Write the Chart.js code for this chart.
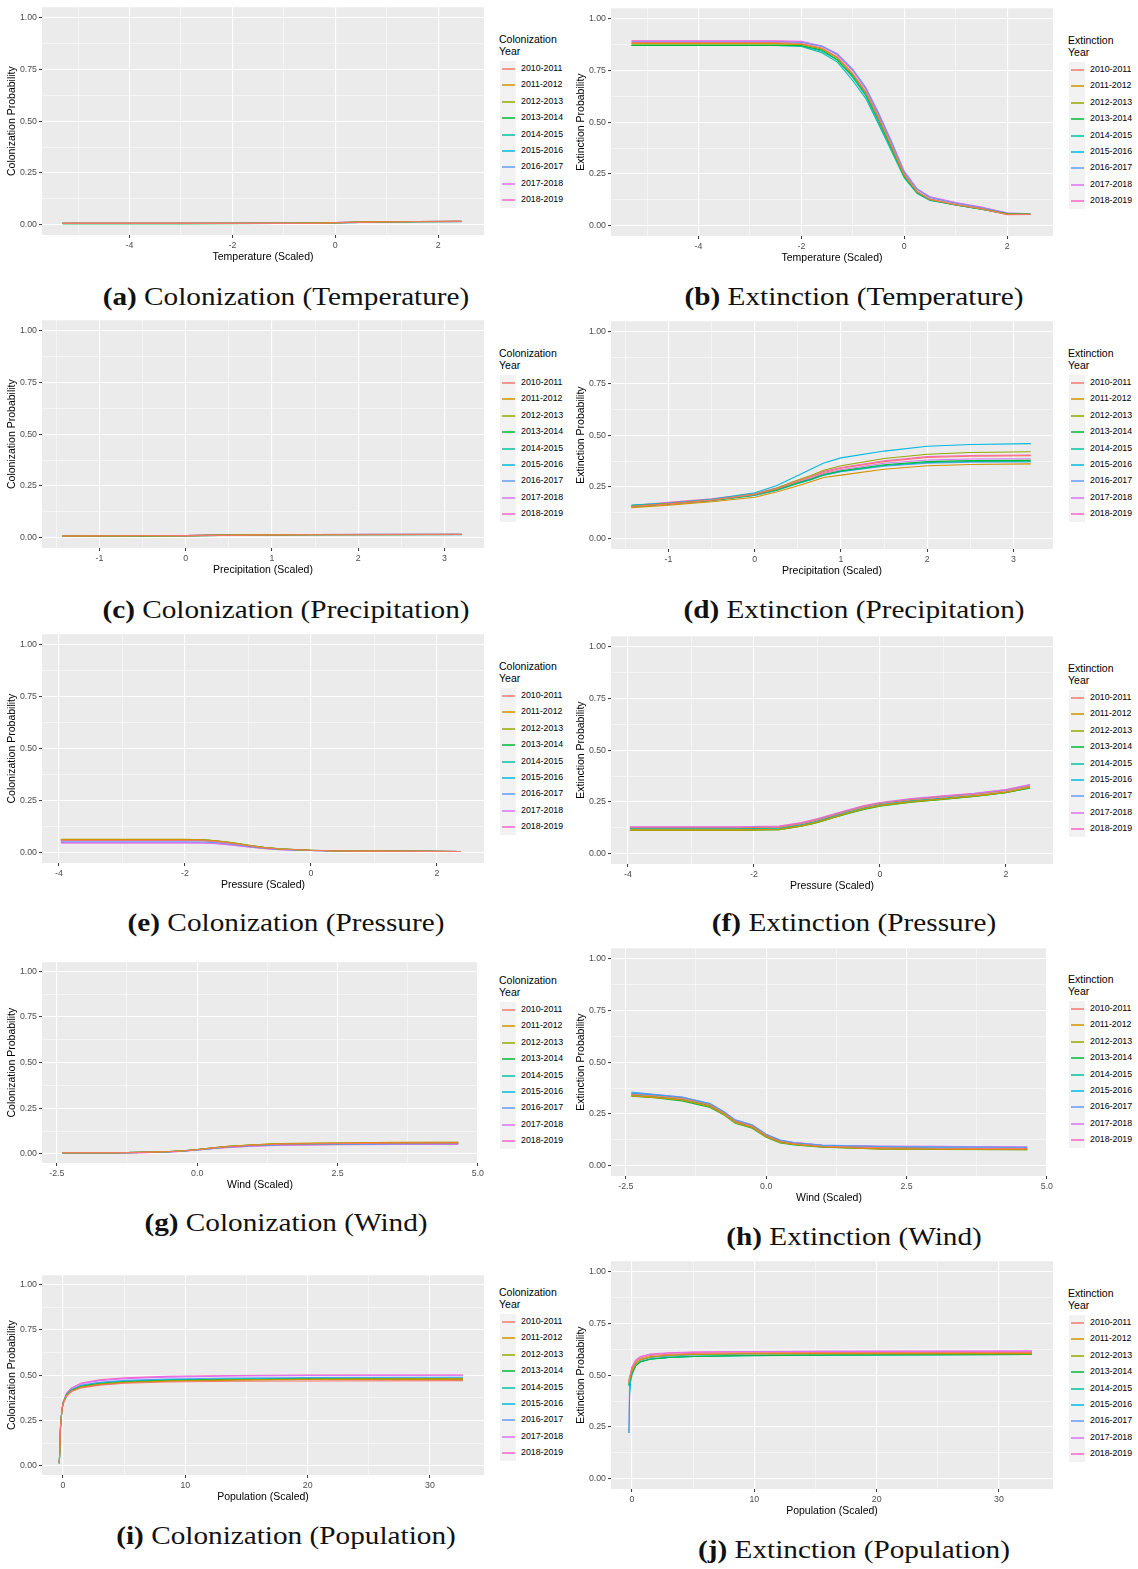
<!DOCTYPE html>
<html>
<head>
<meta charset="utf-8">
<script src="https://cdn.jsdelivr.net/npm/chart.js@4.4.1/dist/chart.umd.min.js"></script>
<style>
  html, body { margin: 0; padding: 0; background: #ffffff; }
  #page { position: relative; width: 1138px; height: 1569px; overflow: hidden; background: #ffffff; }
  canvas { position: absolute; }
  .legend { position: absolute; font-family: "Liberation Sans", Arial, sans-serif; color: #000; }
  .legend .ttl { font-size: 10.5px; line-height: 12px; white-space: nowrap; }
  .legend .keys { position: absolute; left: 1px; background: #F2F2F2; width: 16px; }
  .legend .row { position: absolute; left: 0; height: 16px; width: 80px; }
  .legend .row i { position: absolute; left: 3px; top: 7px; width: 13px; height: 2px; opacity: 0.75; }
  .legend .row span { position: absolute; left: 22px; top: 1px; font-size: 8.8px; line-height: 13px; white-space: nowrap; }
  .cap { position: absolute; width: 560px; text-align: center; font-family: "Liberation Serif", "Times New Roman", serif;
         font-size: 25px; line-height: 30px; color: #111; white-space: nowrap; transform: scaleX(1.17); }
</style>
</head>
<body>
<div id="page"></div>
<script>
// ---- series labels and colours (ggplot hue palette, 9 levels) ----
const years = ['2010-2011','2011-2012','2012-2013','2013-2014','2014-2015','2015-2016','2016-2017','2017-2018','2018-2019'];
const hues  = ['#F8766D','#D39200','#93AA00','#00BA38','#00C19F','#00B9E3','#619CFF','#DB72FB','#FF61C3'];

// ---- axis ranges and ticks ----
const probRange = [-0.05, 1.05];
const probMajor = [0, 0.25, 0.5, 0.75, 1];
const probMinor = [0.125, 0.375, 0.625, 0.875];
const tempRange = [-5.70, 2.89];
const tempMajor = [-4, -2, 0, 2];
const tempMinor = [-5, -3, -1, 1];
const precRange = [-1.667, 3.458];
const precMajor = [-1, 0, 1, 2, 3];
const precMinor = [-1.5, -0.5, 0.5, 1.5, 2.5];
const presRange = [-4.27, 2.746];
const presMajor = [-4, -2, 0, 2];
const presMinor = [-3, -1, 1];
const windRange = [-2.764, 5.0];
const windMajor = [-2.5, 0, 2.5, 5];
const windMinor = [-1.25, 1.25, 3.75];
const popRange  = [-1.717, 34.42];
const popMajor  = [0, 10, 20, 30];
const popMinor  = [5, 15, 25];

// ---- (a) colonization vs temperature ----
const colTempX = [-5.3, -3, -1, -0.3, 0, 0.5, 0.9, 1.6, 2.45];
const colTempY = [
  [0.006,0.006,0.006,0.007,0.009,0.011,0.013,0.014,0.015],
  [0.006,0.006,0.006,0.007,0.009,0.012,0.014,0.015,0.016],
  [0.006,0.006,0.007,0.008,0.010,0.012,0.014,0.015,0.016],
  [0.005,0.005,0.006,0.007,0.009,0.011,0.013,0.014,0.015],
  [0.005,0.005,0.006,0.007,0.009,0.011,0.013,0.014,0.014],
  [0.006,0.006,0.006,0.007,0.009,0.011,0.013,0.014,0.015],
  [0.006,0.006,0.006,0.008,0.010,0.012,0.014,0.015,0.016],
  [0.006,0.006,0.007,0.008,0.010,0.012,0.014,0.015,0.016],
  [0.007,0.007,0.007,0.008,0.010,0.012,0.014,0.015,0.016]
];

// ---- (b) extinction vs temperature ----
const extTempX = [-5.3, -2.5, -2, -1.6, -1.3, -1, -0.75, -0.5, -0.25, 0, 0.25, 0.5, 1, 1.5, 2, 2.45];
const extTempY = [
  [0.885,0.885,0.880,0.858,0.815,0.735,0.648,0.525,0.390,0.248,0.165,0.128,0.102,0.082,0.053,0.054],
  [0.880,0.880,0.877,0.855,0.812,0.732,0.645,0.520,0.385,0.245,0.165,0.127,0.102,0.081,0.055,0.055],
  [0.878,0.878,0.875,0.853,0.810,0.730,0.642,0.518,0.383,0.243,0.163,0.127,0.101,0.081,0.055,0.055],
  [0.871,0.871,0.870,0.848,0.800,0.722,0.635,0.510,0.375,0.238,0.160,0.125,0.100,0.080,0.057,0.055],
  [0.870,0.870,0.866,0.835,0.790,0.700,0.615,0.490,0.360,0.230,0.155,0.122,0.100,0.080,0.056,0.054],
  [0.871,0.871,0.869,0.842,0.800,0.715,0.628,0.500,0.370,0.235,0.158,0.124,0.100,0.080,0.056,0.055],
  [0.887,0.887,0.885,0.866,0.827,0.752,0.665,0.540,0.405,0.258,0.175,0.135,0.108,0.086,0.060,0.056],
  [0.890,0.890,0.888,0.868,0.830,0.755,0.668,0.545,0.408,0.262,0.178,0.138,0.110,0.088,0.062,0.057],
  [0.893,0.893,0.890,0.866,0.825,0.748,0.660,0.535,0.400,0.255,0.175,0.140,0.112,0.090,0.060,0.056]
];

// ---- (c) colonization vs precipitation ----
const colPrecX = [-1.43, -0.5, 0, 0.4, 0.9, 1.5, 2.2, 3.2];
const colPrecY = [
  [0.008,0.009,0.010,0.011,0.013,0.014,0.014,0.015],
  [0.008,0.009,0.010,0.011,0.013,0.014,0.015,0.015],
  [0.008,0.009,0.010,0.012,0.014,0.015,0.015,0.016],
  [0.007,0.008,0.009,0.011,0.013,0.014,0.014,0.015],
  [0.007,0.008,0.009,0.011,0.013,0.014,0.014,0.014],
  [0.008,0.009,0.010,0.011,0.013,0.014,0.015,0.015],
  [0.008,0.009,0.010,0.012,0.014,0.015,0.016,0.016],
  [0.008,0.009,0.010,0.012,0.014,0.015,0.015,0.016],
  [0.009,0.009,0.010,0.012,0.014,0.015,0.016,0.016]
];

// ---- (d) extinction vs precipitation ----
const extPrecX = [-1.43, -1, -0.5, 0, 0.25, 0.5, 0.65, 0.8, 1, 1.5, 2, 2.5, 3.2];
const extPrecY = [
  [0.155,0.168,0.186,0.214,0.240,0.277,0.298,0.320,0.340,0.372,0.392,0.398,0.401],
  [0.150,0.162,0.178,0.200,0.225,0.256,0.275,0.295,0.307,0.335,0.352,0.358,0.361],
  [0.158,0.170,0.186,0.215,0.243,0.283,0.305,0.330,0.352,0.387,0.408,0.416,0.420],
  [0.155,0.168,0.185,0.212,0.236,0.270,0.288,0.310,0.328,0.357,0.372,0.377,0.378],
  [0.152,0.166,0.183,0.209,0.233,0.267,0.285,0.307,0.325,0.353,0.368,0.373,0.374],
  [0.162,0.172,0.190,0.222,0.255,0.305,0.335,0.365,0.390,0.423,0.446,0.455,0.459],
  [0.160,0.170,0.186,0.210,0.234,0.268,0.285,0.306,0.323,0.350,0.365,0.369,0.370],
  [0.158,0.172,0.188,0.213,0.238,0.273,0.292,0.315,0.333,0.364,0.380,0.385,0.386],
  [0.160,0.175,0.192,0.218,0.245,0.282,0.300,0.325,0.344,0.376,0.396,0.402,0.404]
];

// ---- (e) colonization vs pressure ----
const colPresX = [-3.97, -2, -1.7, -1.5, -1.25, -1, -0.75, -0.5, 0, 0.5, 1, 1.8, 2.38];
const colPresY = [
  [0.058,0.058,0.057,0.053,0.044,0.033,0.023,0.017,0.010,0.008,0.007,0.006,0.005],
  [0.063,0.063,0.061,0.056,0.046,0.034,0.024,0.017,0.011,0.008,0.007,0.006,0.005],
  [0.064,0.064,0.062,0.057,0.048,0.036,0.025,0.018,0.011,0.008,0.007,0.006,0.005],
  [0.062,0.062,0.061,0.056,0.047,0.035,0.025,0.018,0.011,0.008,0.007,0.006,0.005],
  [0.060,0.060,0.059,0.055,0.046,0.034,0.024,0.017,0.011,0.008,0.007,0.006,0.005],
  [0.059,0.059,0.058,0.054,0.045,0.033,0.023,0.016,0.010,0.008,0.007,0.006,0.005],
  [0.052,0.052,0.051,0.048,0.040,0.030,0.021,0.015,0.010,0.008,0.007,0.006,0.005],
  [0.048,0.048,0.047,0.044,0.037,0.028,0.020,0.015,0.010,0.008,0.006,0.006,0.005],
  [0.047,0.047,0.046,0.043,0.036,0.027,0.020,0.014,0.010,0.007,0.006,0.005,0.005]
];

// ---- (f) extinction vs pressure ----
const extPresX = [-3.97, -2.3, -1.6, -1.25, -1, -0.75, -0.5, -0.25, 0, 0.5, 1, 1.5, 2, 2.38];
const extPresY = [
  [0.125,0.125,0.128,0.145,0.163,0.185,0.207,0.227,0.242,0.261,0.274,0.287,0.304,0.327],
  [0.115,0.115,0.118,0.135,0.153,0.175,0.198,0.218,0.233,0.252,0.265,0.279,0.297,0.322],
  [0.112,0.112,0.116,0.133,0.151,0.173,0.196,0.216,0.231,0.250,0.263,0.277,0.295,0.320],
  [0.113,0.113,0.116,0.132,0.150,0.172,0.194,0.214,0.229,0.248,0.262,0.276,0.294,0.318],
  [0.120,0.120,0.121,0.137,0.155,0.177,0.199,0.219,0.234,0.253,0.265,0.278,0.295,0.316],
  [0.121,0.121,0.124,0.140,0.158,0.180,0.202,0.222,0.237,0.256,0.268,0.281,0.298,0.320],
  [0.126,0.126,0.129,0.146,0.164,0.186,0.208,0.228,0.243,0.262,0.275,0.288,0.305,0.329],
  [0.128,0.128,0.131,0.148,0.166,0.188,0.210,0.230,0.245,0.264,0.277,0.290,0.308,0.332],
  [0.130,0.130,0.133,0.150,0.168,0.190,0.212,0.232,0.247,0.266,0.279,0.292,0.310,0.334]
];

// ---- (g) colonization vs wind ----
const colWindX = [-2.4, -1.5, -1, -0.5, -0.25, 0, 0.25, 0.5, 1, 1.5, 2.5, 3.5, 4.65];
const colWindY = [
  [0.006,0.006,0.008,0.012,0.016,0.023,0.031,0.038,0.047,0.053,0.056,0.058,0.059],
  [0.006,0.006,0.008,0.013,0.017,0.024,0.032,0.040,0.050,0.057,0.060,0.063,0.064],
  [0.006,0.006,0.008,0.013,0.017,0.024,0.032,0.040,0.050,0.056,0.059,0.062,0.063],
  [0.006,0.006,0.008,0.013,0.017,0.024,0.032,0.040,0.049,0.055,0.058,0.060,0.061],
  [0.006,0.006,0.008,0.012,0.016,0.023,0.031,0.039,0.048,0.054,0.057,0.059,0.060],
  [0.006,0.006,0.008,0.012,0.016,0.023,0.030,0.038,0.047,0.052,0.055,0.057,0.058],
  [0.006,0.006,0.008,0.012,0.016,0.022,0.029,0.036,0.045,0.050,0.053,0.055,0.056],
  [0.005,0.005,0.007,0.011,0.015,0.021,0.028,0.035,0.043,0.048,0.051,0.053,0.054],
  [0.005,0.005,0.007,0.011,0.015,0.021,0.028,0.034,0.042,0.047,0.050,0.052,0.052]
];

// ---- (h) extinction vs wind ----
const extWindX = [-2.4, -2, -1.5, -1, -0.75, -0.55, -0.25, 0, 0.25, 0.5, 1, 2, 3, 4.65];
const extWindY = [
  [0.345,0.338,0.325,0.294,0.254,0.215,0.191,0.147,0.118,0.107,0.094,0.087,0.084,0.082],
  [0.337,0.330,0.317,0.286,0.247,0.208,0.184,0.140,0.112,0.102,0.090,0.081,0.079,0.077],
  [0.338,0.331,0.318,0.287,0.248,0.209,0.185,0.141,0.113,0.103,0.091,0.082,0.080,0.078],
  [0.336,0.328,0.313,0.281,0.244,0.205,0.181,0.137,0.110,0.100,0.089,0.081,0.078,0.077],
  [0.342,0.334,0.321,0.290,0.250,0.212,0.188,0.144,0.116,0.105,0.092,0.085,0.082,0.080],
  [0.350,0.341,0.328,0.296,0.256,0.217,0.193,0.148,0.120,0.108,0.095,0.089,0.086,0.084],
  [0.355,0.345,0.332,0.300,0.260,0.221,0.197,0.152,0.124,0.112,0.099,0.093,0.091,0.089],
  [0.352,0.343,0.331,0.299,0.259,0.220,0.196,0.151,0.123,0.111,0.098,0.093,0.092,0.090],
  [0.348,0.341,0.329,0.298,0.258,0.219,0.195,0.150,0.122,0.111,0.098,0.094,0.093,0.090]
];

// ---- (i) colonization vs population ----
const colPopX = [-0.3, -0.2, -0.1, 0, 0.3, 0.7, 1.5, 3, 5, 8.5, 14, 20, 32.7];
const colPopY = [
  [0.015,0.22,0.30,0.340,0.385,0.410,0.430,0.445,0.455,0.462,0.466,0.468,0.470],
  [0.015,0.22,0.30,0.340,0.388,0.412,0.433,0.448,0.458,0.466,0.472,0.476,0.478],
  [0.015,0.22,0.30,0.345,0.390,0.414,0.436,0.451,0.461,0.469,0.475,0.479,0.481],
  [0.015,0.22,0.30,0.345,0.390,0.415,0.437,0.452,0.462,0.470,0.475,0.477,0.477],
  [0.015,0.22,0.30,0.345,0.392,0.417,0.440,0.455,0.465,0.473,0.478,0.481,0.482],
  [0.015,0.22,0.30,0.345,0.393,0.418,0.441,0.456,0.466,0.474,0.479,0.482,0.483],
  [0.015,0.22,0.30,0.348,0.395,0.421,0.445,0.461,0.471,0.479,0.484,0.487,0.488],
  [0.015,0.22,0.30,0.350,0.400,0.428,0.453,0.470,0.480,0.489,0.495,0.498,0.499],
  [0.015,0.22,0.30,0.350,0.402,0.430,0.456,0.474,0.485,0.493,0.498,0.500,0.501]
];

// ---- (j) extinction vs population ----
const extPopX = [-0.25, -0.2, -0.1, 0, 0.3, 0.7, 1.5, 3, 5, 9, 16, 32.7];
const extPopY = [
  [0.47,0.49,0.51,0.530,0.565,0.583,0.595,0.601,0.605,0.608,0.609,0.610],
  [0.46,0.48,0.50,0.520,0.556,0.576,0.589,0.597,0.601,0.603,0.604,0.604],
  [0.46,0.48,0.50,0.520,0.555,0.575,0.588,0.596,0.600,0.603,0.604,0.603],
  [0.45,0.47,0.49,0.510,0.545,0.565,0.577,0.585,0.590,0.594,0.597,0.600],
  [0.45,0.47,0.49,0.510,0.545,0.565,0.578,0.586,0.591,0.595,0.597,0.600],
  [0.22,0.40,0.47,0.500,0.545,0.565,0.578,0.585,0.590,0.594,0.596,0.600],
  [0.45,0.47,0.50,0.520,0.555,0.572,0.585,0.592,0.597,0.601,0.603,0.606],
  [0.47,0.49,0.51,0.540,0.570,0.588,0.600,0.606,0.610,0.613,0.615,0.616],
  [0.22,0.45,0.51,0.540,0.572,0.590,0.602,0.608,0.612,0.614,0.615,0.616]
];

// ---- drawing ----
const SANS = '"Liberation Sans", Arial, sans-serif';
Chart.defaults.font.family = SANS;
const page = document.getElementById('page');

// grey panel background behind the grid
const panelBg = {
  id: 'panelBg',
  beforeDraw(chart) {
    const { ctx, chartArea: a } = chart;
    ctx.save();
    ctx.fillStyle = '#EBEBEB';
    ctx.fillRect(a.left, a.top, a.right - a.left, a.bottom - a.top);
    ctx.restore();
  }
};

function tickList(major, minor) {
  return major.map(v => ({ value: v, isMajor: true }))
    .concat(minor.map(v => ({ value: v, isMajor: false })))
    .sort((p, q) => p.value - q.value);
}

function axisOpts(range, major, minor, fmt, title, isX) {
  const list = tickList(major, minor);
  return {
    type: 'linear',
    min: range[0], max: range[1],
    afterBuildTicks: s => { s.ticks = list.map(t => ({ ...t })); },
    afterFit: s => { if (isX) s.height = 30; else s.width = 42; },
    border: { display: false },
    grid: {
      color: '#FFFFFF',
      lineWidth: c => (c.tick && c.tick.isMajor ? 1.1 : 0.5),
      drawTicks: true,
      tickLength: 3,
      tickWidth: 1,
      tickColor: c => (c.tick && c.tick.isMajor ? '#333333' : 'rgba(0,0,0,0)')
    },
    ticks: {
      autoSkip: false, maxRotation: 0, minRotation: 0,
      padding: 2,
      color: '#4D4D4D',
      font: { family: SANS, size: 8.8 },
      callback: (v, i, ts) => (ts[i].isMajor ? fmt(v) : '')
    },
    title: {
      display: true, text: title, color: '#000000',
      font: { family: SANS, size: 10.5 },
      padding: isX ? { top: 0, bottom: 2 } : { top: 6, bottom: 0 }
    }
  };
}

const fmtInt = v => String(v);
const fmtOne = v => v.toFixed(1);
const fmtProb = v => v.toFixed(2);

function drawPanel(p) {
  const cv = document.createElement('canvas');
  const W = 486, H = 5 + p.plotH + 32;
  cv.width = W; cv.height = H;
  cv.style.left = p.left + 'px';
  cv.style.top = (p.top - 5) + 'px';
  cv.style.width = W + 'px'; cv.style.height = H + 'px';
  page.appendChild(cv);

  new Chart(cv, {
    type: 'line',
    data: {
      datasets: years.map((yr, i) => ({
        label: yr,
        data: p.xs.map((x, k) => ({ x: x, y: p.ys[i][k] })),
        borderColor: hues[i],
        borderWidth: 1.1,
        pointRadius: 0,
        tension: 0,
        fill: false
      }))
    },
    options: {
      responsive: false, animation: false, devicePixelRatio: 1,
      events: [],
      layout: { padding: { left: 0, right: 2, top: 5, bottom: 2 } },
      plugins: { legend: { display: false }, tooltip: { enabled: false } },
      scales: {
        x: axisOpts(p.xRange, p.xMajor, p.xMinor, p.xFmt, p.xTitle, true),
        y: axisOpts(probRange, probMajor, probMinor, fmtProb, p.yTitle, false)
      }
    },
    plugins: [panelBg]
  });

  // legend: title, grey key column, coloured line keys (whole-pixel rows)
  const lg = document.createElement('div');
  lg.className = 'legend';
  lg.style.left = (p.left + 499) + 'px';
  lg.style.top = Math.round(p.legY - 6) + 'px';
  const ttl = document.createElement('div');
  ttl.className = 'ttl';
  ttl.innerHTML = p.legWord + '<br>Year';
  lg.appendChild(ttl);
  const keyTop = 28;
  const rowTops = years.map((_, i) => keyTop + Math.round(16.4 * i));
  const keys = document.createElement('div');
  keys.className = 'keys';
  keys.style.top = keyTop + 'px';
  keys.style.height = (rowTops[rowTops.length - 1] + 16 - keyTop) + 'px';
  lg.appendChild(keys);
  years.forEach((yr, i) => {
    const row = document.createElement('div');
    row.className = 'row';
    row.style.top = rowTops[i] + 'px';
    row.innerHTML = '<i style="background:' + hues[i] + '"></i><span>' + yr + '</span>';
    lg.appendChild(row);
  });
  page.appendChild(lg);

  // caption under the panel
  const cap = document.createElement('div');
  cap.className = 'cap';
  cap.style.left = (p.capX - 280) + 'px';
  cap.style.top = (p.capY - 15) + 'px';
  cap.innerHTML = '<b>(' + p.tag + ')</b> ' + p.caption;
  page.appendChild(cap);
}

const LEFT = 0, RIGHT = 569;
const colY = 'Colonization Probability', extY = 'Extinction Probability';

drawPanel({ tag: 'a', caption: 'Colonization (Temperature)', left: LEFT, top: 5, plotH: 230, legY: 39.3, legWord: 'Colonization', capX: 286, capY: 296.5,
  xs: colTempX, ys: colTempY, xRange: tempRange, xMajor: tempMajor, xMinor: tempMinor, xFmt: fmtInt, xTitle: 'Temperature (Scaled)', yTitle: colY });
drawPanel({ tag: 'b', caption: 'Extinction (Temperature)', left: RIGHT, top: 6, plotH: 230, legY: 40, legWord: 'Extinction', capX: 854, capY: 296.5,
  xs: extTempX, ys: extTempY, xRange: tempRange, xMajor: tempMajor, xMinor: tempMinor, xFmt: fmtInt, xTitle: 'Temperature (Scaled)', yTitle: extY });
drawPanel({ tag: 'c', caption: 'Colonization (Precipitation)', left: LEFT, top: 318, plotH: 230, legY: 353, legWord: 'Colonization', capX: 286, capY: 610,
  xs: colPrecX, ys: colPrecY, xRange: precRange, xMajor: precMajor, xMinor: precMinor, xFmt: fmtInt, xTitle: 'Precipitation (Scaled)', yTitle: colY });
drawPanel({ tag: 'd', caption: 'Extinction (Precipitation)', left: RIGHT, top: 319, plotH: 230, legY: 353.3, legWord: 'Extinction', capX: 854, capY: 610,
  xs: extPrecX, ys: extPrecY, xRange: precRange, xMajor: precMajor, xMinor: precMinor, xFmt: fmtInt, xTitle: 'Precipitation (Scaled)', yTitle: extY });
drawPanel({ tag: 'e', caption: 'Colonization (Pressure)', left: LEFT, top: 632, plotH: 231, legY: 666, legWord: 'Colonization', capX: 286, capY: 923,
  xs: colPresX, ys: colPresY, xRange: presRange, xMajor: presMajor, xMinor: presMinor, xFmt: fmtInt, xTitle: 'Pressure (Scaled)', yTitle: colY });
drawPanel({ tag: 'f', caption: 'Extinction (Pressure)', left: RIGHT, top: 634, plotH: 230, legY: 667.7, legWord: 'Extinction', capX: 854, capY: 923,
  xs: extPresX, ys: extPresY, xRange: presRange, xMajor: presMajor, xMinor: presMinor, xFmt: fmtInt, xTitle: 'Pressure (Scaled)', yTitle: extY });
drawPanel({ tag: 'g', caption: 'Colonization (Wind)', left: LEFT, top: 960, plotH: 203, legY: 980, legWord: 'Colonization', capX: 286, capY: 1223,
  xs: colWindX, ys: colWindY, xRange: windRange, xMajor: windMajor, xMinor: windMinor, xFmt: fmtOne, xTitle: 'Wind (Scaled)', yTitle: colY });
drawPanel({ tag: 'h', caption: 'Extinction (Wind)', left: RIGHT, top: 946, plotH: 230, legY: 979.3, legWord: 'Extinction', capX: 854, capY: 1236.5,
  xs: extWindX, ys: extWindY, xRange: windRange, xMajor: windMajor, xMinor: windMinor, xFmt: fmtOne, xTitle: 'Wind (Scaled)', yTitle: extY });
drawPanel({ tag: 'i', caption: 'Colonization (Population)', left: LEFT, top: 1273, plotH: 202, legY: 1292.3, legWord: 'Colonization', capX: 286, capY: 1536,
  xs: colPopX, ys: colPopY, xRange: popRange, xMajor: popMajor, xMinor: popMinor, xFmt: fmtInt, xTitle: 'Population (Scaled)', yTitle: colY });
drawPanel({ tag: 'j', caption: 'Extinction (Population)', left: RIGHT, top: 1259, plotH: 230, legY: 1293.3, legWord: 'Extinction', capX: 854, capY: 1550,
  xs: extPopX, ys: extPopY, xRange: popRange, xMajor: popMajor, xMinor: popMinor, xFmt: fmtInt, xTitle: 'Population (Scaled)', yTitle: extY });
</script>
</body>
</html>
